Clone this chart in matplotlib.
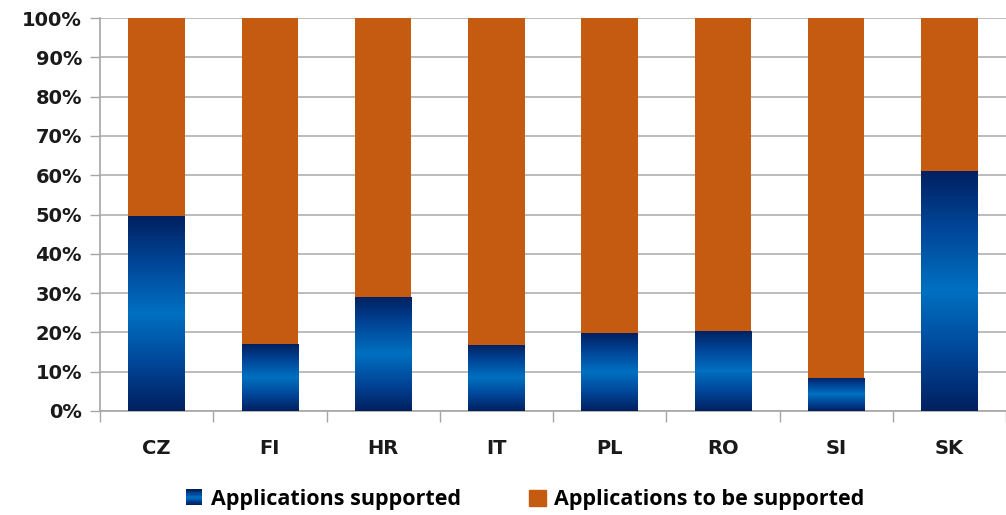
import numpy as np
import matplotlib
matplotlib.use("Agg")
import matplotlib.pyplot as plt
from matplotlib.colors import LinearSegmentedColormap
from matplotlib.patches import Rectangle
from matplotlib.legend_handler import HandlerBase

categories = ["CZ", "FI", "HR", "IT", "PL", "RO", "SI", "SK"]
supported = [49.6, 17.0, 29.1, 16.8, 19.8, 20.4, 8.5, 61.1]
to_be_supported = [100 - v for v in supported]
series_names = ["Applications supported", "Applications to be supported"]
yticks = [0, 10, 20, 30, 40, 50, 60, 70, 80, 90, 100]
ytick_labels = [f"{t}%" for t in yticks]

orange = "#C55A11"
grad = LinearSegmentedColormap.from_list(
    "bg", ["#002060", "#00479A", "#0070C0", "#00479A", "#002060"])

fig = plt.figure(figsize=(10.06, 5.15), dpi=100)
ax = fig.add_axes([100 / 1006, 1 - 411 / 515, 906 / 1006, 393 / 515])

x = np.arange(len(categories))
w = 0.5
bars = ax.bar(x, supported, width=w, color="none", zorder=3)
ax.bar(x, to_be_supported, width=w, bottom=supported, color=orange, zorder=3)

gimg = np.linspace(0, 1, 256).reshape(-1, 1)
for b in bars:
    x0, y0 = b.get_x(), b.get_y()
    bw, bh = b.get_width(), b.get_height()
    im = ax.imshow(gimg, cmap=grad, aspect="auto", extent=[x0, x0 + bw, y0, y0 + bh],
                   origin="lower", zorder=3, interpolation="bilinear")
    im.set_clip_path(b)

ax.set_xlim(-0.5, len(categories) - 0.5)
ax.set_ylim(0, 100)
ax.set_yticks(yticks)
ax.set_yticklabels(ytick_labels)
ax.set_xticks(x)
ax.set_xticklabels(categories)
ax.set_xticks(np.arange(-0.5, len(categories), 1), minor=True)
ax.tick_params(axis="x", which="major", length=0, pad=20)
ax.tick_params(axis="x", which="minor", length=8, color="#A6A6A6", width=1)
ax.tick_params(axis="y", length=7, color="#A6A6A6", width=1, pad=6)
for lbl in ax.get_xticklabels() + ax.get_yticklabels():
    lbl.set_fontweight("bold")
    lbl.set_fontsize(14)
    lbl.set_color("#1A1A1A")

ax.grid(axis="y", color="#B0B0B0", linewidth=1.2, zorder=0)
ax.set_axisbelow(True)
for s in ["top", "right"]:
    ax.spines[s].set_visible(False)
for s in ["left", "bottom"]:
    ax.spines[s].set_color("#A6A6A6")
    ax.spines[s].set_linewidth(1.2)


class GradHandler(HandlerBase):
    def create_artists(self, legend, orig_handle, xd, yd, width, height, fontsize, trans):
        arts = []
        n = 12
        cols = grad(np.linspace(0, 1, n))
        for i in range(n):
            r = Rectangle((xd, yd + height * i / n), width, height / n + 0.2,
                          facecolor=cols[i], edgecolor="none", transform=trans)
            arts.append(r)
        return arts


h1 = Rectangle((0, 0), 1, 1, color="#0060B0")
h2 = Rectangle((0, 0), 1, 1, color=orange)
fig.legend([h1, h2], series_names, loc="center", bbox_to_anchor=(0.522, 1 - 500 / 515),
           ncol=2, frameon=False, handler_map={h1: GradHandler()},
           prop={"weight": "bold", "size": 15.5, "family": "Open Sans"},
           handlelength=0.75, handleheight=0.75, handletextpad=0.4, columnspacing=3.2)

fig.savefig("out.png", dpi=100)
